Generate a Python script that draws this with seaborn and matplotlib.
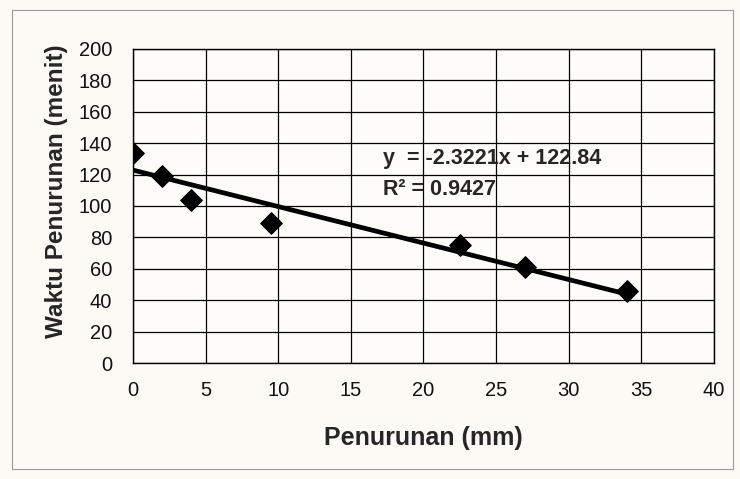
import matplotlib
matplotlib.use('Agg')

import matplotlib.pyplot as plt
import seaborn as sns
import numpy as np
import pandas as pd
from matplotlib.patches import Rectangle

# data
penurunan = [0, 2, 4, 9.5, 22.5, 27, 34]          # mm
waktu = [134, 119, 104, 89, 75, 61, 46]           # menit
slope = -2.3221
intercept = 122.84
r2 = 0.9427

x_ticks = list(range(0, 45, 5))
y_ticks = list(range(0, 220, 20))

sns.set_style("white")
plt.rcParams['font.family'] = ['Liberation Sans', 'DejaVu Sans']

fig = plt.figure(figsize=(7.4, 4.79), dpi=100)
fig.patch.set_facecolor("#fbfaf5")
ax = fig.add_axes([0.1797, 0.242, 0.7851, 0.656])
ax.set_facecolor("#fdfcf8")

# chart frame like the Excel chart area
fig.patches.append(Rectangle((0.016, 0.02), 0.975, 0.96, transform=fig.transFigure,
                             fill=False, edgecolor="#9a9a9a", linewidth=0.8))

df = pd.DataFrame({"x": penurunan, "y": waktu})
trend_x = np.array([min(penurunan), max(penurunan)])
trend = pd.DataFrame({"x": trend_x, "y": slope * trend_x + intercept})

sns.lineplot(data=trend, x="x", y="y", ax=ax, color="black", linewidth=3.4, zorder=3)
sns.scatterplot(data=df, x="x", y="y", ax=ax, marker="D", s=120, color="black",
                edgecolor="black", zorder=4)

ax.set_xlim(0, 40)
ax.set_ylim(0, 200)
ax.set_xticks(x_ticks)
ax.set_yticks(y_ticks)
ax.grid(True, color="black", linewidth=0.9)
ax.set_axisbelow(True)
for s in ax.spines.values():
    s.set_color("black")
    s.set_linewidth(1.0)
ax.tick_params(axis="both", direction="inout", length=6, width=0.9, labelsize=14.5,
               colors="#111111", pad=10)
ax.tick_params(axis="y", pad=12)

ax.set_xlabel("Penurunan (mm)", fontsize=18, fontweight="bold")
ax.set_ylabel("Waktu Penurunan (menit)", fontsize=17.5, fontweight="bold")
ax.xaxis.set_label_coords(0.5, -0.2)
ax.yaxis.set_label_coords(-0.112, 0.548)

ax.text(17.2, 130.5, f"y  = {slope}x + {intercept}", fontsize=15.5, fontweight="bold",
        va="center", ha="left", zorder=5)
ax.text(17.2, 110.5, f"R² = {r2}", fontsize=15.5, fontweight="bold",
        va="center", ha="left", zorder=5)

fig.savefig("out.png", dpi=100, facecolor=fig.get_facecolor())
plt.close(fig)
